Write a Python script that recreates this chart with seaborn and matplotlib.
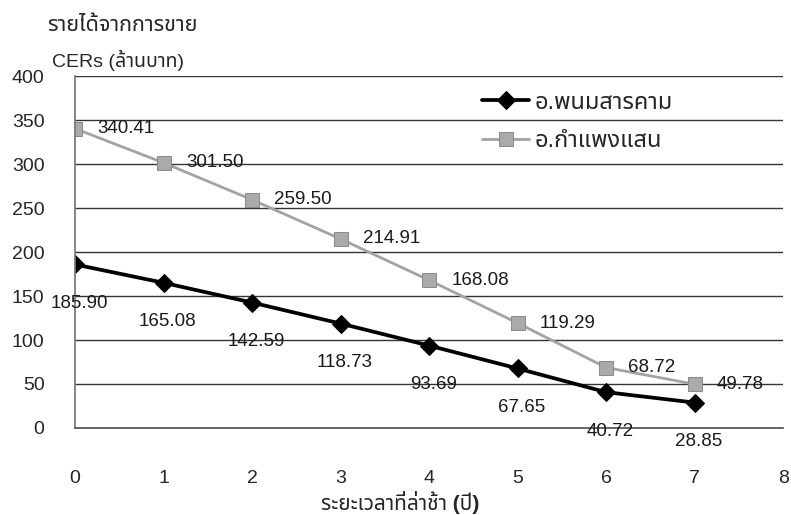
import matplotlib
matplotlib.use("Agg")
import matplotlib.pyplot as plt
import seaborn as sns
import pandas as pd
from matplotlib import font_manager

years = [0, 1, 2, 3, 4, 5, 6, 7]
phanom = [185.90, 165.08, 142.59, 118.73, 93.69, 67.65, 40.72, 28.85]
kamphaeng = [340.41, 301.50, 259.50, 214.91, 168.08, 119.29, 68.72, 49.78]
series_names = ["อ.พนมสารคาม", "อ.กำแพงแสน"]
y_ticks = [0, 50, 100, 150, 200, 250, 300, 350, 400]
x_ticks = [0, 1, 2, 3, 4, 5, 6, 7, 8]

sns.set_theme(style="white")
avail = {f.name for f in font_manager.fontManager.ttflist}
fams = [f for f in ["Liberation Sans", "Noto Sans Thai", "Noto Sans", "DejaVu Sans",
                    "Loma", "Garuda", "Tlwg Typo", "Norasi", "Kinnari", "Waree", "Sawasdee"] if f in avail]
plt.rcParams['font.family'] = fams

df = pd.DataFrame({
    "year": years * 2,
    "value": phanom + kamphaeng,
    "series": [series_names[0]] * len(years) + [series_names[1]] * len(years),
})

fig = plt.figure(figsize=(7.91, 5.15), dpi=100)
ax = fig.add_axes([0.095, 0.169, 0.895, 0.683])

palette = {series_names[0]: "#000000", series_names[1]: "#9e9e9e"}
sns.lineplot(data=df, x="year", y="value", hue="series", style="series",
             markers={series_names[0]: "D", series_names[1]: "s"}, dashes=False,
             palette=palette, linewidth=2.6, markersize=9, ax=ax, legend=False)
lines = ax.lines[:2]
lines[0].set_markerfacecolor("#000000")
lines[0].set_markeredgecolor("#000000")
lines[0].set_linewidth(2.7)
lines[1].set_linewidth(2.0)
lines[1].set_color("#a3a3a3")
lines[1].set_markerfacecolor("#aaaaaa")
lines[1].set_markeredgecolor("#8c8c8c")
lines[1].set_markersize(10)

fs = 13.5
for x, y in zip(years, phanom):
    ax.annotate(f"{y:.2f}", (x, y), xytext=(3, -28), textcoords="offset points",
                ha="center", va="center", fontsize=fs, color="#1a1a1a")
for x, y in zip(years, kamphaeng):
    ax.annotate(f"{y:.2f}", (x, y), xytext=(16, 0), textcoords="offset points",
                ha="left", va="center", fontsize=fs, color="#1a1a1a")

ax.set_xlim(0, 8)
ax.set_ylim(0, 400)
ax.set_xticks(x_ticks)
ax.set_yticks(y_ticks)
ax.set_xticklabels([str(v) for v in x_ticks], fontsize=14)
ax.set_yticklabels([str(v) for v in y_ticks], fontsize=14)
ax.tick_params(axis="both", direction="out", length=6, width=1, color="#555555")
ax.tick_params(axis="y", pad=16)
ax.tick_params(axis="x", pad=24)
ax.yaxis.grid(True, color="#333333", linewidth=1.0)
ax.xaxis.grid(False)
for s in ["top", "right"]:
    ax.spines[s].set_visible(False)
ax.spines["left"].set_color("#777777")
ax.spines["bottom"].set_color("#555555")
ax.set_xlabel("ระยะเวลาที่ล่าช้า (ปี)", fontsize=15, fontweight="bold", va="center")
ax.xaxis.set_label_coords(0.459, -0.212)
ax.set_ylabel("")

ax.legend(handles=lines, labels=series_names, loc="center left",
          bbox_to_anchor=(0.545, 0.87), frameon=False,
          fontsize=17, handlelength=2.0, handletextpad=0.2, labelspacing=0.7)

fig.text(0.059, 0.951, "รายได้จากการขาย", fontsize=15.5, fontweight="bold", va="center", ha="left")
fig.text(0.066, 0.883, "CERs (ล้านบาท)", fontsize=14, va="center", ha="left")

fig.savefig("out.png", dpi=100)
